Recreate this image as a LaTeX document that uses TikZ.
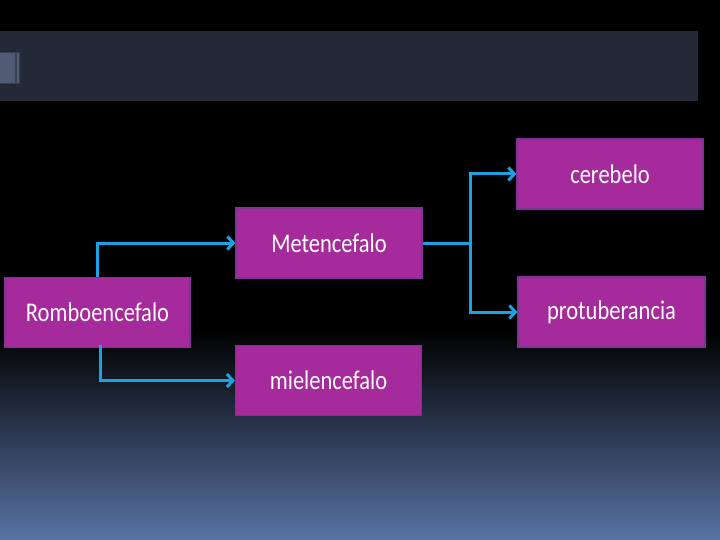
\documentclass[tikz,border=0pt]{standalone}
\usepackage{fontspec}
\setmainfont{Carlito}
\usetikzlibrary{arrows.meta}
\definecolor{boxfill}{RGB}{165,42,155}
\definecolor{boxline}{RGB}{125,50,150}
\definecolor{conn}{RGB}{26,163,224}
\definecolor{bar}{RGB}{35,41,55}
\definecolor{bottomblue}{RGB}{88,115,163}
\definecolor{barbox}{RGB}{80,92,115}
\newcommand{\tallt}[1]{\scalebox{1}[1.2]{#1}}
\tikzset{
  box/.style={draw=boxline, line width=1.2pt, fill=boxfill, text=white!95!pink, minimum width=#1, minimum height=70pt, inner sep=0pt, font=\fontsize{22.5}{26}\selectfont},
  box/.default=186pt,
  conn/.style={draw=conn, line width=3pt, line join=miter},
  arr/.style={conn, -{Straight Barb[length=6pt,width=13pt,line width=3pt]}}
}
\begin{document}
\begin{tikzpicture}[x=1pt,y=-1pt]
\useasboundingbox (0,0) rectangle (720,540);
\fill[black] (0,0) rectangle (720,540);
\shade[top color=black, bottom color=bottomblue] (0,330) rectangle (720,540);
\fill[bar] (0,31) rectangle (698,101);
\filldraw[fill=barbox, draw=barbox!70!black, line width=0.6pt] (-1,52) rectangle (15,83);
\filldraw[fill=barbox, draw=barbox!70!black, line width=0.6pt] (16,52) rectangle (19,83);

\node[box=185pt] (romb) at (97.5,312.5) {\tallt{Romboencefalo}};
\node[box] (met) at (329,243) {\tallt{Metencefalo}};
\node[box] (miel) at (328.5,380.5) {\tallt{mielencefalo}};
\node[box] (cer) at (610,174) {\tallt{cerebelo}};
\node[box=187pt] (prot) at (611.5,312) {\tallt{protuberancia}};

\coordinate (split) at (470,243);
\draw[arr] (romb.north -| 97,0) |- (met.west);
\draw[arr] ([yshift=3pt]romb.south -| 100,0) |- (miel.west);
\draw[conn] (met.east) -- (split);
\draw[arr] (split) |- (cer.west);
\draw[arr] (split) |- (prot.west);
\end{tikzpicture}
\end{document}
